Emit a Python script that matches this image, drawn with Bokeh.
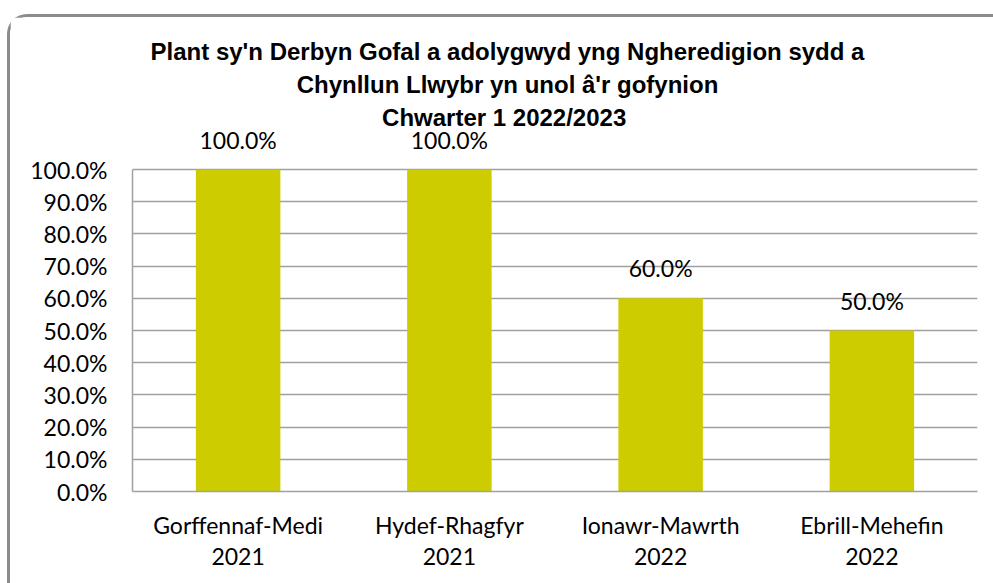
from bokeh.plotting import figure
from bokeh.models import FactorRange, Range1d, NumeralTickFormatter, FixedTicker, Label, ColumnDataSource
from bokeh.core.properties import value
from bokeh.embed import file_html
from bokeh.resources import INLINE

title_lines = [
    "Plant sy'n Derbyn Gofal a adolygwyd yng Ngheredigion sydd a",
    "Chynllun Llwybr yn unol â'r gofynion",
    "Chwarter 1  2022/2023",
]
periods = ["Gorffennaf-Medi", "Hydef-Rhagfyr", "Ionawr-Mawrth", "Ebrill-Mehefin"]
years = ["2021", "2021", "2022", "2022"]
values = [1.0, 1.0, 0.6, 0.5]
y_ticks = [0.0, 0.1, 0.2, 0.3, 0.4, 0.5, 0.6, 0.7, 0.8, 0.9, 1.0]

cats = [f"{a}\n{b}" for a, b in zip(periods, years)]
labels = [f"{v*100:.1f}%" for v in values]
src = ColumnDataSource(dict(x=cats, top=values, label=labels))

BODY = "Lato"
TITLE = "Liberation Sans"

# frame spans to the canvas top so the title and value labels are not clipped;
# value 1.0 sits 152 px below the canvas top on a 474 px tall frame
p = figure(
    width=986, height=569,
    x_range=FactorRange(*cats, range_padding=0),
    y_range=Range1d(0, 474 / 322),
    output_backend="svg", toolbar_location=None,
    min_border_left=122, min_border_right=19,
    min_border_top=0, min_border_bottom=95,
)
p.styles = {
    "margin-left": "7px", "margin-top": "14px",
    "border-top": "3px solid #8c8c8c", "border-left": "3px solid #8c8c8c",
    "border-top-left-radius": "20px",
}
p.outline_line_color = None
p.background_fill_color = "white"
p.border_fill_color = "white"

p.vbar(x="x", top="top", width=0.4, source=src, color="#CCCC00", line_color=None)
p.text(x="x", y="top", text="label", source=src, text_align="center",
       text_baseline="alphabetic", y_offset=-30,
       text_font=value(BODY), text_font_size="23px", text_color="#000000")

p.yaxis.ticker = FixedTicker(ticks=y_ticks)
p.yaxis.bounds = (0, 1)
p.yaxis.formatter = NumeralTickFormatter(format="0.0%")
p.yaxis.major_tick_out = 0
p.yaxis.major_tick_in = 0
p.yaxis.minor_tick_line_color = None
p.yaxis.major_label_standoff = 25
p.yaxis.axis_line_color = "#a0a0a0"
p.yaxis.axis_line_width = 1.5
p.yaxis.major_label_text_font = BODY
p.yaxis.major_label_text_font_size = "23px"
p.yaxis.major_label_text_color = "#000000"

p.xaxis.major_tick_out = 0
p.xaxis.major_tick_in = 0
p.xaxis.major_label_standoff = 19
p.xaxis.axis_line_color = "#a0a0a0"
p.xaxis.axis_line_width = 1.5
p.xaxis.major_label_text_font = BODY
p.xaxis.major_label_text_font_size = "23px"
p.xaxis.major_label_text_color = "#000000"
p.xaxis.major_label_text_line_height = 1.12

p.xgrid.grid_line_color = None
p.ygrid.ticker = FixedTicker(ticks=y_ticks)
p.ygrid.grid_line_color = "#a0a0a0"
p.ygrid.grid_line_width = 1.4

title_x = 375
title_y = [440, 407, 374]
for t, yy in zip(title_lines, title_y):
    p.add_layout(Label(x=title_x, y=yy, x_units="screen", y_units="screen", text=t,
                       text_align="center", text_baseline="alphabetic",
                       text_font=TITLE, text_font_style="bold",
                       text_font_size="24px", text_color="#000000"))

open("out.html", "w").write(file_html(p, INLINE))
